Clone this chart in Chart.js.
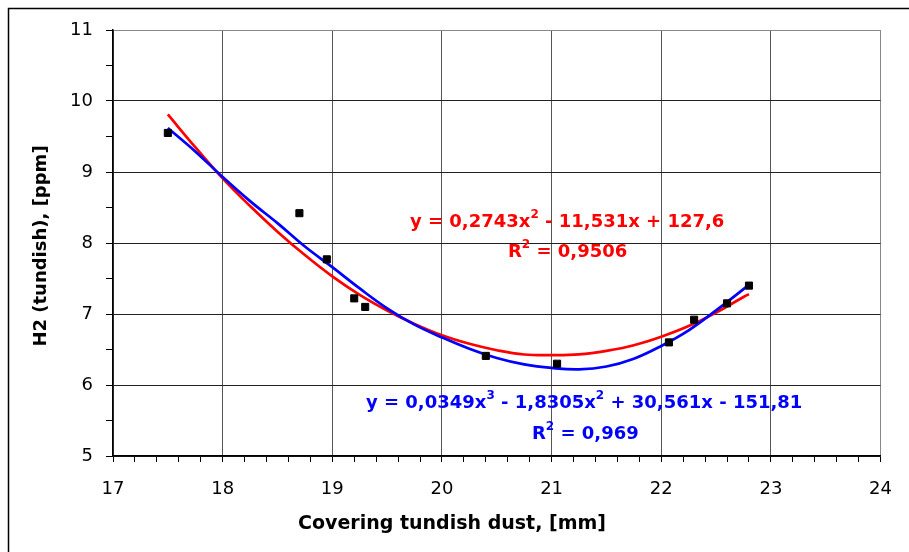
<!DOCTYPE html>
<html>
<head>
<meta charset="utf-8">
<script src="https://cdn.jsdelivr.net/npm/chart.js@4.4.1/dist/chart.umd.min.js"></script>
<style>
  html, body { margin: 0; padding: 0; background: #fff; }
  #wrap { width: 909px; height: 552px; }
</style>
</head>
<body>
<div id="wrap"><canvas id="chart" width="909" height="552"></canvas></div>
<script>
// Measured points (covering tundish dust [mm] vs H2 in tundish [ppm])
const dustX = [17.5, 18.7, 18.95, 19.2, 19.3, 20.4, 21.05, 22.07, 22.3, 22.6, 22.8];
const h2Y   = [9.55, 8.42, 7.77, 7.22, 7.1, 6.41, 6.3, 6.6, 6.92, 7.15, 7.4];

// Trendlines, values
const trendX = [17.5, 17.75, 18, 18.25, 18.5, 18.75, 19, 19.25, 19.5, 19.75, 20, 20.25,
                20.5, 20.75, 21, 21.25, 21.5, 21.75, 22, 22.25, 22.5, 22.75, 22.8];
const poly2Y = [9.81, 9.35, 8.91, 8.52, 8.16, 7.83, 7.53, 7.27, 7.05, 6.86, 6.70, 6.58,
                6.49, 6.43, 6.42, 6.43, 6.48, 6.56, 6.68, 6.83, 7.02, 7.24, 7.28];
const poly3Y = [9.62, 9.29, 8.93, 8.59, 8.28, 7.95, 7.66, 7.36, 7.08, 6.85, 6.67, 6.51,
                6.38, 6.29, 6.24, 6.22, 6.26, 6.37, 6.55, 6.77, 7.05, 7.35, 7.42];

// Axis ranges
const xMin = 17, xMax = 24, xStep = 0.2;
const yMin = 5, yMax = 11, yStep = 0.5;

// Trendline labels
const eq2 = ['y = 0,2743x', '2', ' - 11,531x + 127,6'];
const r2a = ['R', '2', ' = 0,9506'];
const eq3 = ['y = 0,0349x', '3', ' - 1,8305x', '2', ' + 30,561x - 151,81'];
const r2b = ['R', '2', ' = 0,969'];

const toXY = (xs, ys) => xs.map((x, i) => ({ x: x, y: ys[i] }));
const isInt = v => Math.abs(v - Math.round(v)) < 1e-6;

Chart.defaults.font.family = "'DejaVu Sans', sans-serif";
Chart.defaults.color = '#000';

// pieces alternate: normal, superscript, normal...
function drawRich(ctx, pieces, left, baseline, color) {
    let x = left;
    ctx.fillStyle = color;
    ctx.textAlign = 'left';
    ctx.textBaseline = 'alphabetic';
    pieces.forEach((p, i) => {
        const sup = i % 2 === 1;
        ctx.font = sup ? "bold 12px 'DejaVu Sans'" : "bold 18px 'DejaVu Sans'";
        ctx.fillText(p, x, sup ? baseline - 9 : baseline);
        x += ctx.measureText(p).width;
    });
}

const decor = {
    id: 'decor',
    beforeDraw(chart) {
        const ctx = chart.ctx;
        ctx.save();
        ctx.fillStyle = '#fff';
        ctx.fillRect(0, 0, chart.width, chart.height);
        // outer frame (continues past right and bottom edges)
        ctx.strokeStyle = '#000';
        ctx.lineWidth = 1.5;
        ctx.beginPath();
        ctx.moveTo(8.5, chart.height);
        ctx.lineTo(8.5, 8.5);
        ctx.lineTo(chart.width, 8.5);
        ctx.stroke();
        ctx.restore();
    },
    afterDraw(chart) {
        const ctx = chart.ctx;
        ctx.save();
        // axis titles
        ctx.fillStyle = '#000';
        ctx.textAlign = 'center';
        ctx.textBaseline = 'middle';
        ctx.font = "bold 19px 'DejaVu Sans'";
        ctx.fillText('Covering tundish dust, [mm]', 452, 524);
        ctx.translate(41, 246);
        ctx.rotate(-Math.PI / 2);
        ctx.font = "bold 18px 'DejaVu Sans'";
        ctx.fillText('H2 (tundish), [ppm]', 0, 0);
        ctx.restore();

        ctx.save();
        drawRich(ctx, eq2, 410, 227, '#ff0000');
        drawRich(ctx, r2a, 508, 257, '#ff0000');
        drawRich(ctx, eq3, 366, 408, '#0000ff');
        drawRich(ctx, r2b, 532, 439, '#0000ff');
        ctx.restore();
    }
};

new Chart(document.getElementById('chart'), {
    type: 'scatter',
    data: {
        datasets: [
            {
                label: 'H2',
                data: toXY(dustX, h2Y),
                pointStyle: 'rect',
                pointRadius: 5,
                borderWidth: 1,
                backgroundColor: '#000',
                borderColor: '#000',
                order: 0
            },
            {
                label: 'Poly. 3',
                data: toXY(trendX, poly3Y),
                showLine: true,
                borderColor: '#0000ff',
                borderWidth: 2.7,
                pointRadius: 0,
                tension: 0.4,
                order: 1
            },
            {
                label: 'Poly. 2',
                data: toXY(trendX, poly2Y),
                showLine: true,
                borderColor: '#ff0000',
                borderWidth: 2.7,
                pointRadius: 0,
                tension: 0.4,
                order: 2
            }
        ]
    },
    options: {
        responsive: false,
        devicePixelRatio: 1,
        animation: false,
        layout: { padding: { top: 30, right: 27, bottom: 0, left: 0 } },
        plugins: {
            legend: { display: false },
            tooltip: { enabled: false }
        },
        scales: {
            x: {
                type: 'linear',
                min: xMin,
                max: xMax,
                afterFit: s => { s.height = 96; },
                ticks: {
                    stepSize: xStep,
                    autoSkip: false,
                    maxRotation: 0,
                    padding: 17,
                    font: { size: 18 },
                    callback: v => isInt(v) ? String(Math.round(v)) : ''
                },
                grid: {
                    color: c => !isInt(c.tick.value) ? 'rgba(0,0,0,0)' : (Math.round(c.tick.value) === xMax ? '#888' : '#555'),
                    lineWidth: 1,
                    tickColor: '#000',
                    tickLength: 6
                },
                border: { color: '#000', width: 1.5 }
            },
            y: {
                type: 'linear',
                min: yMin,
                max: yMax,
                afterFit: s => { s.width = 113; },
                ticks: {
                    stepSize: yStep,
                    autoSkip: false,
                    padding: 13,
                    font: { size: 18 },
                    callback: v => isInt(v) ? String(Math.round(v)) : ''
                },
                grid: {
                    color: c => !isInt(c.tick.value) ? 'rgba(0,0,0,0)' : (Math.round(c.tick.value) === yMax ? '#888' : '#222'),
                    lineWidth: 1,
                    tickColor: '#000',
                    tickLength: 7
                },
                border: { color: '#000', width: 1.5 }
            }
        }
    },
    plugins: [decor]
});
</script>
</body>
</html>
